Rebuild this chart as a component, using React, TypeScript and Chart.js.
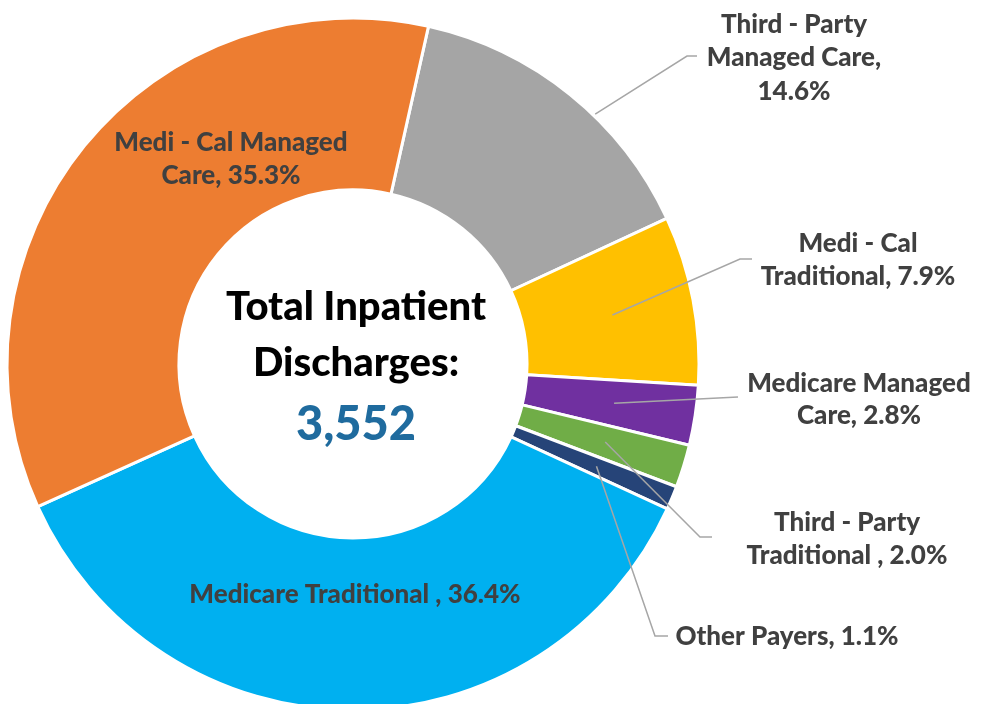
import React, { useEffect, useRef } from 'react';
import { Chart, registerables } from 'chart.js';

Chart.register(...registerables);

// ---- data ----
const categories = [
  'Third - Party Managed Care',
  'Medi - Cal Traditional',
  'Medicare Managed Care',
  'Third - Party Traditional ',
  'Other Payers',
  'Medicare Traditional ',
  'Medi - Cal Managed Care',
];
const shares = [14.6, 7.9, 2.8, 2.0, 1.1, 36.4, 35.3];
const sliceColors = ['#A5A5A5', '#FFC000', '#7030A0', '#70AD47', '#264478', '#00B0F0', '#ED7D31'];
const totalDischarges = 3552;
const centerTitleLines = ['Total Inpatient', 'Discharges:'];

// ---- label layout (positions only) ----
type LabelLayout = {
  breaks: number[];
  x: number;
  baselines: number[];
  anchorFrac?: number;
  anchorRadius?: 'mid' | 'outer';
  path?: [number, number][];
};
const labelLayout: LabelLayout[] = [
  { breaks: [3, 5], x: 794, baselines: [33, 66, 100], anchorFrac: 0.6, anchorRadius: 'outer', path: [[687, 56], [697, 56]] },
  { breaks: [3], x: 858, baselines: [252, 285], anchorFrac: 0.5, anchorRadius: 'mid', path: [[740, 259], [752, 259]] },
  { breaks: [2], x: 859, baselines: [392, 424], anchorFrac: 0.5, anchorRadius: 'mid', path: [[738, 397]] },
  { breaks: [3], x: 847, baselines: [531, 564], anchorFrac: 0.5, anchorRadius: 'mid', path: [[700, 537], [712, 537]] },
  { breaks: [], x: 787, baselines: [645], anchorFrac: 0.5, anchorRadius: 'mid', path: [[655, 636], [668, 636]] },
  { breaks: [], x: 355, baselines: [603] },
  { breaks: [4], x: 231, baselines: [151, 184] },
];

const LABEL_FONT = '900 26px Lato';
const LABEL_COLOR = '#404040';
const LEADER_COLOR = '#A6A6A6';

function labelLines(i: number): string[] {
  const full = `${categories[i]}, ${shares[i].toFixed(1)}%`.replace(/\s+,/, ' ,');
  const words = full.split(/\s+/).filter((w) => w.length > 0);
  const lines: string[] = [];
  let cur: string[] = [];
  words.forEach((w, idx) => {
    cur.push(w);
    if (labelLayout[i].breaks.includes(idx + 1)) {
      lines.push(cur.join(' '));
      cur = [];
    }
  });
  if (cur.length) lines.push(cur.join(' '));
  return lines;
}

const labelPlugin = {
  id: 'customLabels',
  afterDraw(chart: any) {
    const ctx = chart.ctx as CanvasRenderingContext2D;
    const meta = chart.getDatasetMeta(0);
    ctx.save();
    meta.data.forEach((arc: any, i: number) => {
      const lay = labelLayout[i];
      if (!lay.path) return;
      const p = arc.getProps(['x', 'y', 'startAngle', 'endAngle', 'innerRadius', 'outerRadius'], true);
      const a = p.startAngle + (p.endAngle - p.startAngle) * (lay.anchorFrac ?? 0.5);
      const r = lay.anchorRadius === 'outer' ? p.outerRadius + 2 : (p.innerRadius + p.outerRadius) / 2 + 4;
      const sx = p.x + Math.cos(a) * r;
      const sy = p.y + Math.sin(a) * r;
      ctx.beginPath();
      ctx.moveTo(sx, sy);
      lay.path.forEach(([x, y]) => ctx.lineTo(x, y));
      ctx.strokeStyle = LEADER_COLOR;
      ctx.lineWidth = 1.5;
      ctx.stroke();
    });
    ctx.font = LABEL_FONT;
    ctx.fillStyle = LABEL_COLOR;
    ctx.textAlign = 'center';
    ctx.textBaseline = 'alphabetic';
    labelLayout.forEach((lay, i) => {
      const lines = labelLines(i);
      lines.forEach((ln, k) => ctx.fillText(ln, lay.x, lay.baselines[k]));
    });
    const cx = 356;
    ctx.fillStyle = '#000000';
    ctx.font = '900 40px Lato';
    ctx.fillText(centerTitleLines[0], cx, 320);
    ctx.fillText(centerTitleLines[1], cx, 376);
    ctx.fillStyle = '#1F6B9E';
    ctx.font = '900 47px Lato';
    ctx.fillText(totalDischarges.toLocaleString('en-US'), cx, 440);
    ctx.restore();
  },
};

export default function App() {
  const ref = useRef<HTMLCanvasElement | null>(null);
  useEffect(() => {
    if (!ref.current) return;
    const chart = new Chart(ref.current, {
      type: 'doughnut',
      data: {
        labels: categories,
        datasets: [
          {
            data: shares,
            backgroundColor: sliceColors,
            borderColor: '#FFFFFF',
            borderWidth: 3,
            radius: 346,
          } as any,
        ],
      },
      options: {
        responsive: false,
        animation: false,
        rotation: 12.6,
        cutout: '50.3%',
        layout: { padding: { left: 0, right: 276, top: 0, bottom: 0 } },
        plugins: {
          legend: { display: false },
          tooltip: { enabled: false },
        },
      },
      plugins: [labelPlugin],
    });
    return () => chart.destroy();
  }, []);
  return (
    <div style={{ position: 'fixed', left: 0, top: 0, width: 982, height: 704, overflow: 'hidden', background: '#fff' }}>
      <canvas ref={ref} width={982} height={728} style={{ display: 'block' }} />
    </div>
  );
}
